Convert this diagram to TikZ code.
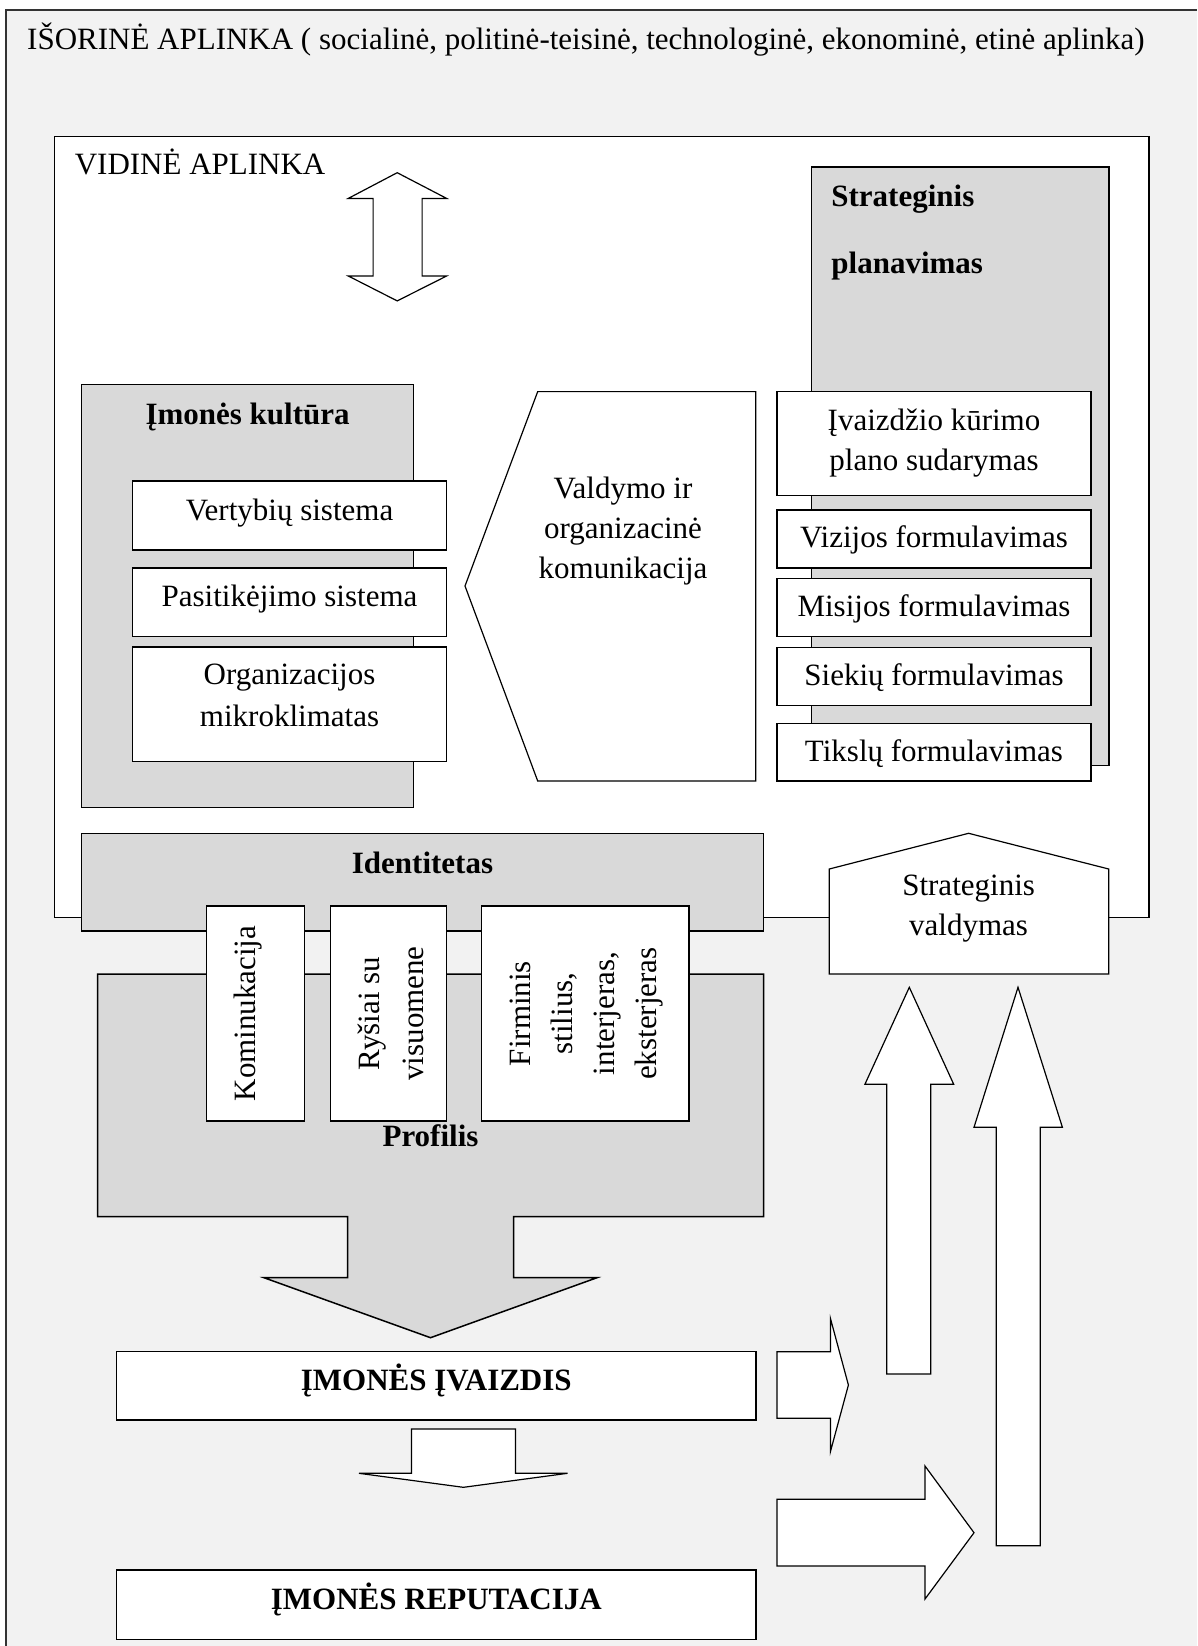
\documentclass[tikz,border=0pt]{standalone}
\usepackage{fontspec}
\setmainfont{Liberation Serif}
\definecolor{pagebg}{HTML}{F2F2F2}
\definecolor{panel}{HTML}{D9D9D9}
\begin{document}
\begin{tikzpicture}[x=1pt,y=-1pt,
  edge/.style={draw=black,line width=1.5pt,line join=miter},
  thinedge/.style={draw=black,line width=1.2pt,line join=miter},
  panelfill/.style={edge,fill=panel},
  card/.style={edge,fill=white},
  blockarrow/.style={thinedge,fill=white},
  lbl/.style={font=\fontsize{31}{40}\selectfont,inner sep=0pt,anchor=base},
  lblb/.style={lbl,font=\fontsize{31}{40}\selectfont\bfseries},
]
\useasboundingbox (0,0) rectangle (1197,1646);
\fill[white] (0,0) rectangle (1197,1646);

% outer environment frame
\fill[pagebg] (6,10) rectangle (1197,1646);
\draw[line width=2pt,draw=black!80] (6,1646) -- (6,10) -- (1197,10);
\node[lbl,anchor=base west] (outer) at (27,50) {IŠORINĖ APLINKA ( socialinė, politinė-teisinė, technologinė, ekonominė, etinė aplinka)};

% inner environment
\draw[edge,fill=white] (54.3,136.4) rectangle (1149.2,917.5);
\node[lbl,anchor=base west] (inner) at (74.6,174.6) {VIDINĖ APLINKA};

% two-way arrow
\draw[blockarrow] (397.2,172.7) -- (446.6,198.4) -- (422.1,198.4) -- (422.1,276)
  -- (446.6,276) -- (397.2,300.9) -- (348.3,276) -- (373.1,276) -- (373.1,198.4)
  -- (348.3,198.4) -- cycle;

% company culture
\draw[panelfill] (81.5,384.3) rectangle (413.7,807.3);
\node[lblb] (culture) at (247.6,424.5) {Įmonės kultūra};
\draw[card] (132.4,481.2) rectangle (446.6,550);
\node[lbl] (values) at (289.5,520) {Vertybių sistema};
\draw[card] (132.4,568) rectangle (446.6,636.7);
\node[lbl] (trust) at (289.5,606.7) {Pasitikėjimo sistema};
\draw[card] (132.4,647) rectangle (446.6,761.7);
\node[lbl] (climateA) at (289.5,684.3) {Organizacijos};
\node[lbl] (climateB) at (289.5,726.7) {mikroklimatas};

% management communication
\draw[blockarrow] (465,586) -- (537.7,391.6) -- (755.8,391.6) -- (755.8,781) -- (537.7,781) -- cycle;
\node[lbl] (commA) at (623,498) {Valdymo ir};
\node[lbl] (commB) at (623,538) {organizacinė};
\node[lbl] (commC) at (623,578) {komunikacija};

% strategic planning
\draw[panelfill] (811.3,167) rectangle (1109,765.3);
\node[lblb,anchor=base west] (planA) at (831.2,206.4) {Strateginis};
\node[lblb,anchor=base west] (planB) at (831.2,273) {planavimas};
\draw[card] (776.9,391.6) rectangle (1091,495.3);
\node[lbl] (imgplanA) at (934,430) {Įvaizdžio kūrimo};
\node[lbl] (imgplanB) at (934,470.5) {plano sudarymas};
\draw[card] (776.9,510) rectangle (1091,568);
\node[lbl] (vision) at (934,547) {Vizijos formulavimas};
\draw[card] (776.9,578.7) rectangle (1091,636.7);
\node[lbl] (mission) at (934,616.7) {Misijos formulavimas};
\draw[card] (776.9,647.7) rectangle (1091,705.3);
\node[lbl] (aims) at (934,685) {Siekių formulavimas};
\draw[card] (776.9,723.3) rectangle (1091,781);
\node[lbl] (goals) at (934,761.7) {Tikslų formulavimas};

% identity band
\draw[panelfill] (81.5,833.3) rectangle (763.5,931);
\node[lblb] (ident) at (422.5,873.3) {Identitetas};

% strategic management
\draw[blockarrow] (829.3,974) -- (829.3,869) -- (968.6,833.3) -- (1108.7,869) -- (1108.7,974) -- cycle;
\node[lbl] (mgmtA) at (968.6,895) {Strateginis};
\node[lbl] (mgmtB) at (968.6,935) {valdymas};

% profile with its downward arrow
\draw[panelfill] (97.6,974) -- (763.5,974) -- (763.5,1216.7) -- (513.6,1216.7)
  -- (513.6,1277.7) -- (597,1277.7) -- (430.5,1337.7) -- (264,1277.7)
  -- (347.5,1277.7) -- (347.5,1216.7) -- (97.6,1216.7) -- cycle;
\node[lblb] (profile) at (430.5,1146.7) {Profilis};

% vertical cards
\draw[card] (206.7,906) rectangle (304.6,1121);
\node[lbl,rotate=90] (kom) at (255,1013.5) {Kominukacija};
\draw[card] (330.7,906) rectangle (446.6,1121);
\node[lbl,rotate=90] (prA) at (379,1013.5) {Ryšiai su};
\node[lbl,rotate=90] (prB) at (423,1013.5) {visuomene};
\draw[card] (481.4,906) rectangle (688.8,1121);
\node[lbl,rotate=90] (styleA) at (530,1013.5) {Firminis};
\node[lbl,rotate=90] (styleB) at (572,1013.5) {stilius,};
\node[lbl,rotate=90] (styleC) at (614,1013.5) {interjeras,};
\node[lbl,rotate=90] (styleD) at (656,1013.5) {eksterjeras};

% image and reputation
\draw[card] (116.7,1351.7) rectangle (755.8,1420);
\node[lblb] (image) at (436.3,1390) {ĮMONĖS ĮVAIZDIS};
\draw[blockarrow] (411.4,1429) -- (515.5,1429) -- (515.5,1473.3) -- (567.5,1473.3)
  -- (463.4,1487.3) -- (359,1473.3) -- (411.4,1473.3) -- cycle;
\draw[card] (116.7,1570) rectangle (755.8,1639.3);
\node[lblb] (reput) at (436.3,1609) {ĮMONĖS REPUTACIJA};

% feedback arrows
\draw[blockarrow] (776.9,1351.7) -- (830.4,1351.7) -- (830.4,1318.3) -- (848.4,1385)
  -- (830.4,1451.7) -- (830.4,1418.3) -- (776.9,1418.3) -- cycle;
\draw[blockarrow] (776.9,1499.3) -- (925,1499.3) -- (925,1466) -- (974,1532.7)
  -- (925,1599) -- (925,1566) -- (776.9,1566) -- cycle;
\draw[blockarrow] (886.7,1374) -- (886.7,1084.3) -- (864.9,1084.3) -- (909.3,987.3)
  -- (953.7,1084.3) -- (930.7,1084.3) -- (930.7,1374) -- cycle;
\draw[blockarrow] (996.2,1545.7) -- (996.2,1127.3) -- (974,1127.3) -- (1018,987.3)
  -- (1062.4,1127.3) -- (1040.2,1127.3) -- (1040.2,1545.7) -- cycle;
\end{tikzpicture}
\end{document}
